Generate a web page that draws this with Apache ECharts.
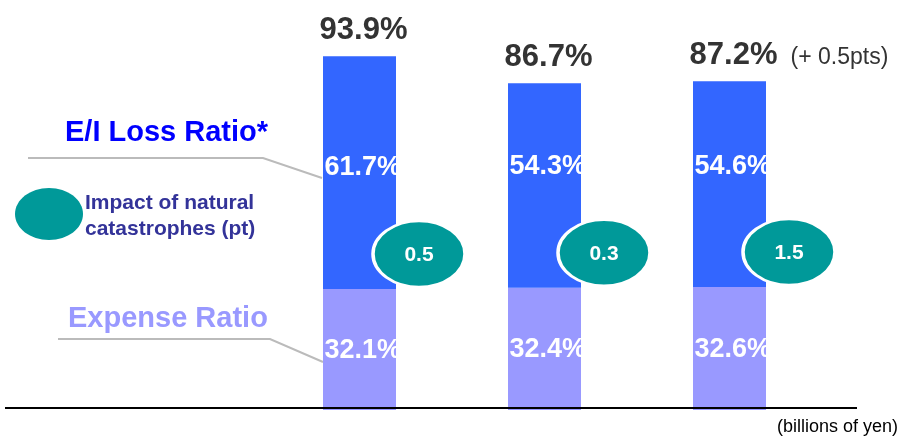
<!DOCTYPE html>
<html>
<head>
<meta charset="utf-8">
<script src="https://cdn.jsdelivr.net/npm/echarts@6/dist/echarts.min.js"></script>
<style>
html,body{margin:0;padding:0;background:#fff;}
#chart{width:899px;height:438px;}
</style>
</head>
<body>
<div id="chart"></div>
<script>
// ---- data ----
const categories = ['Period 1', 'Period 2', 'Period 3'];
const expenseRatio = [32.1, 32.4, 32.6];
const lossRatio = [61.7, 54.3, 54.6];
const combinedRatio = [93.9, 86.7, 87.2];
const catImpact = ['0.5', '0.3', '1.5'];
const changeNote = ['', '', '(+ 0.5pts)'];
const unitLabel = '(billions of yen)';

const FONT = '"Liberation Sans", Arial, Helvetica, sans-serif';
const chart = echarts.init(document.getElementById('chart'), null, {renderer: 'canvas'});

const option = {
  animation: false,
  backgroundColor: '#ffffff',
  textStyle: {fontFamily: FONT},
  grid: {left: 267, right: 77, top: 33, bottom: 28},
  xAxis: {
    type: 'category', data: categories,
    axisLine: {show: false}, axisTick: {show: false}, axisLabel: {show: false}
  },
  yAxis: {
    type: 'value', min: 0, max: 100,
    show: false, splitLine: {show: false}
  },
  series: [
    {
      name: 'Expense Ratio', type: 'bar', stack: 'ratio', barWidth: 73,
      data: expenseRatio,
      itemStyle: {color: '#9999ff'},
      label: {
        show: true, position: 'insideLeft', distance: 1.5, offset: [0, 1],
        formatter: p => p.value.toFixed(1) + '%',
        color: '#ffffff', fontSize: 27, fontWeight: 'bold', fontFamily: FONT
      }
    },
    {
      name: 'E/I Loss Ratio', type: 'bar', stack: 'ratio', barWidth: 73,
      data: lossRatio,
      itemStyle: {color: '#3366ff'},
      label: {
        show: true, position: 'insideBottomLeft', distance: 1.5, offset: [0, -106],
        formatter: p => p.value.toFixed(1) + '%',
        color: '#ffffff', fontSize: 27, fontWeight: 'bold', fontFamily: FONT
      }
    },
    {
      name: 'Combined', type: 'scatter', symbolSize: 0,
      data: combinedRatio,
      itemStyle: {opacity: 1},
      label: {
        show: true, position: 'top', distance: 10, offset: [4, 0],
        formatter: p => p.value.toFixed(1) + '%',
        color: '#333333', fontSize: 31, fontWeight: 'bold', fontFamily: FONT
      },
      z: 5
    },
    {
      name: 'Change', type: 'scatter', symbolSize: 0,
      data: combinedRatio,
      itemStyle: {opacity: 1},
      label: {
        show: true, position: 'top', distance: 12, offset: [61, 0], align: 'left',
        formatter: p => changeNote[p.dataIndex],
        color: '#333333', fontSize: 23, fontFamily: FONT
      },
      z: 5
    },
    {
      name: 'Impact of natural catastrophes', type: 'scatter',
      data: expenseRatio,
      symbol: 'circle', symbolSize: [92, 66], symbolOffset: [59.5, -35],
      itemStyle: {color: '#009999', borderColor: '#ffffff', borderWidth: 3, opacity: 1},
      label: {
        show: true, position: 'inside', offset: [0, 1],
        formatter: p => catImpact[p.dataIndex],
        color: '#ffffff', fontSize: 21, fontWeight: 'bold', fontFamily: FONT
      },
      z: 6
    }
  ],
  graphic: [
    {type: 'line', shape: {x1: 5, y1: 408, x2: 857, y2: 408}, style: {stroke: '#000000', lineWidth: 2}, z: 10},
    {type: 'text', style: {text: unitLabel, x: 898, y: 427, align: 'right', verticalAlign: 'middle', font: '18px ' + FONT, fill: '#000000'}},
    {type: 'polyline', shape: {points: [[28, 158], [263, 158], [322, 178]]}, style: {stroke: '#bbbbbb', lineWidth: 2, fill: null}},
    {type: 'polyline', shape: {points: [[58, 339], [270, 339], [323, 362]]}, style: {stroke: '#bbbbbb', lineWidth: 2, fill: null}},
    {type: 'text', style: {text: 'E/I Loss Ratio*', x: 65, y: 133, verticalAlign: 'middle', font: 'bold 29px ' + FONT, fill: '#0000ff'}},
    {type: 'text', style: {text: 'Expense Ratio', x: 68, y: 319, verticalAlign: 'middle', font: 'bold 29px ' + FONT, fill: '#9999ff'}},
    {type: 'ellipse', shape: {cx: 49, cy: 214, rx: 34, ry: 26}, style: {fill: '#009999'}},
    {type: 'text', style: {text: 'Impact of natural\ncatastrophes (pt)', x: 85, y: 216, verticalAlign: 'middle', lineHeight: 26, font: 'bold 21px ' + FONT, fill: '#333399'}}
  ]
};
chart.setOption(option);
</script>
</body>
</html>
